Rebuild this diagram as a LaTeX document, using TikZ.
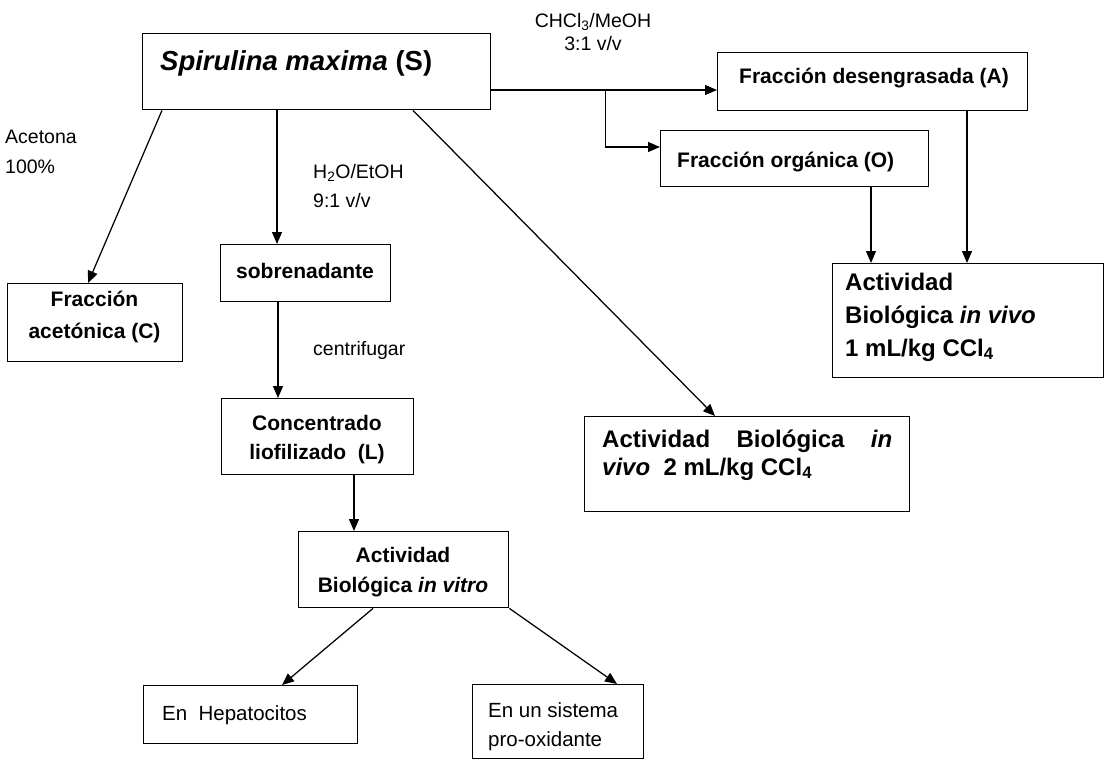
\documentclass[tikz,border=0pt]{standalone}
\usepackage{fontspec}
\setmainfont{Liberation Sans}
\usetikzlibrary{arrows.meta,calc}

% stacked lines with a fixed baseline distance; baseline = first line
\newcommand\mll[2]{\vtop{\baselineskip=#1\lineskiplimit=-\maxdimen\lineskip=0pt\halign{##\hfil\cr#2\crcr}}}
\newcommand\mlc[2]{\vtop{\baselineskip=#1\lineskiplimit=-\maxdimen\lineskip=0pt\halign{\hfil##\hfil\cr#2\crcr}}}

\begin{document}
\begin{tikzpicture}[x=1pt,y=-1pt,
  box/.style={draw, line width=1.4pt, inner sep=0pt, anchor=north west},
  bt/.style={inner sep=0pt, font=\bfseries\fontsize{21}{25}\selectfont},
  big/.style={inner sep=0pt, font=\bfseries\fontsize{24}{28}\selectfont},
  rt/.style={inner sep=0pt, font=\fontsize{20.5}{24}\selectfont},
  lbl/.style={inner sep=0pt, font=\fontsize{19.5}{23}\selectfont},
  arr/.style={line width=1.25pt, -{Triangle[length=12pt,width=10pt]}}]
\useasboundingbox[fill=white] (0,0) rectangle (1109,761);

% boxes
\node[box, minimum width=348pt, minimum height=76pt]  (S)  at (142,33)  {};
\node[box, minimum width=310pt, minimum height=58pt]  (A)  at (717,52)  {};
\node[box, minimum width=268pt, minimum height=56pt]  (O)  at (660,130) {};
\node[box, minimum width=271pt, minimum height=114pt] (V1) at (832,263) {};
\node[box, minimum width=175pt, minimum height=78pt]  (C)  at (7,283)   {};
\node[box, minimum width=170pt, minimum height=57pt]  (B)  at (220,244) {};
\node[box, minimum width=192pt, minimum height=76pt]  (L)  at (221,398) {};
\node[box, minimum width=325pt, minimum height=95pt]  (V2) at (584,416) {};
\node[box, minimum width=210pt, minimum height=76pt]  (T)  at (298,531) {};
\node[box, minimum width=214pt, minimum height=58pt]  (H)  at (143,685) {};
\node[box, minimum width=171pt, minimum height=74pt]  (P)  at (472,684) {};

% box texts
\node[inner sep=0pt, anchor=base west, font=\bfseries\fontsize{27.5}{33}\selectfont] (St) at (160,70)
  {\textit{Spirulina maxima} (S)};
\node[bt, anchor=base] (At) at (874,83) {Fracción desengrasada (A)};
\node[bt, anchor=base west] (Ot) at (677,167) {Fracción orgánica (O)};
\node[big, anchor=base west] (V1t) at (845,290)
  {\mll{33pt}{Actividad\cr Biológica \textit{in vivo}\cr 1 mL/kg CCl\textsubscript{4}}};
\node[bt, anchor=base] (Ct) at (94.5,306) {\mlc{32pt}{Fracción\cr acetónica (C)}};
\node[bt, anchor=base west] (Bt) at (236,278) {sobrenadante};
\node[bt, anchor=base] (Lt) at (317,430) {\mlc{29pt}{Concentrado\cr liofilizado\ \ (L)}};
\node[bt, anchor=base] (Tt) at (403,562) {\mlc{30pt}{Actividad\cr Biológica \textit{in vitro}}};
\node[big, anchor=base west] (V2t) at (602,447)
  {\mll{28pt}{\makebox[290pt][s]{Actividad Biológica \textit{in}}\cr \textit{vivo}\ \ 2 mL/kg CCl\textsubscript{4}}};
\node[rt, anchor=base west] (Ht) at (162,720) {En\ \ Hepatocitos};
\node[rt, anchor=base west] (Pt) at (488,717) {\mll{29pt}{En un sistema\cr pro-oxidante}};

% solvent and step labels
\node[lbl, anchor=base] (l1) at (593,27) {\mlc{23pt}{CHCl\textsubscript{3}/MeOH\cr 3:1 v/v}};
\node[lbl, anchor=base west] (l2) at (5,143) {\mll{30pt}{Acetona\cr 100\%}};
\node[lbl, anchor=base west] (l3) at (313,178) {\mll{29pt}{H\textsubscript{2}O/EtOH\cr 9:1 v/v}};
\node[lbl, anchor=base west] (l4) at (313,355) {centrifugar};

% connectors
\coordinate (s1) at ($(S.north east)+(0,57)$);
\draw[arr] (s1) -- (s1 -| A.west);
\coordinate (b1) at ($(s1)+(114,0)$);
\draw[arr] (b1) |- ($(O.north west)+(0,17)$);
\coordinate (o1) at ($(O.south west)+(211,0)$);
\draw[arr] (o1) -- (o1 |- V1.north);
\coordinate (a1) at ($(A.south west)+(250,0)$);
\draw[arr] (a1) -- (a1 |- V1.north);

\draw[arr] ($(S.south west)+(20,0)$) -- ($(C.north west)+(81,0)$);
\coordinate (s2) at ($(S.south west)+(135,0)$);
\draw[arr] (s2) -- (s2 |- B.north);
\draw[arr] ($(S.south west)+(271,0)$) -- ($(V2.north west)+(131,0)$);

\coordinate (b2) at ($(B.south west)+(58,0)$);
\draw[arr] (b2) -- (b2 |- L.north);
\coordinate (l5) at ($(L.south west)+(133,0)$);
\draw[arr] (l5) -- (l5 |- T.north);
\draw[arr] ($(T.south west)+(75,0)$) -- ($(H.north west)+(139,0)$);
\draw[arr] (T.south east) -- ($(P.north west)+(145,0)$);
\end{tikzpicture}
\end{document}
